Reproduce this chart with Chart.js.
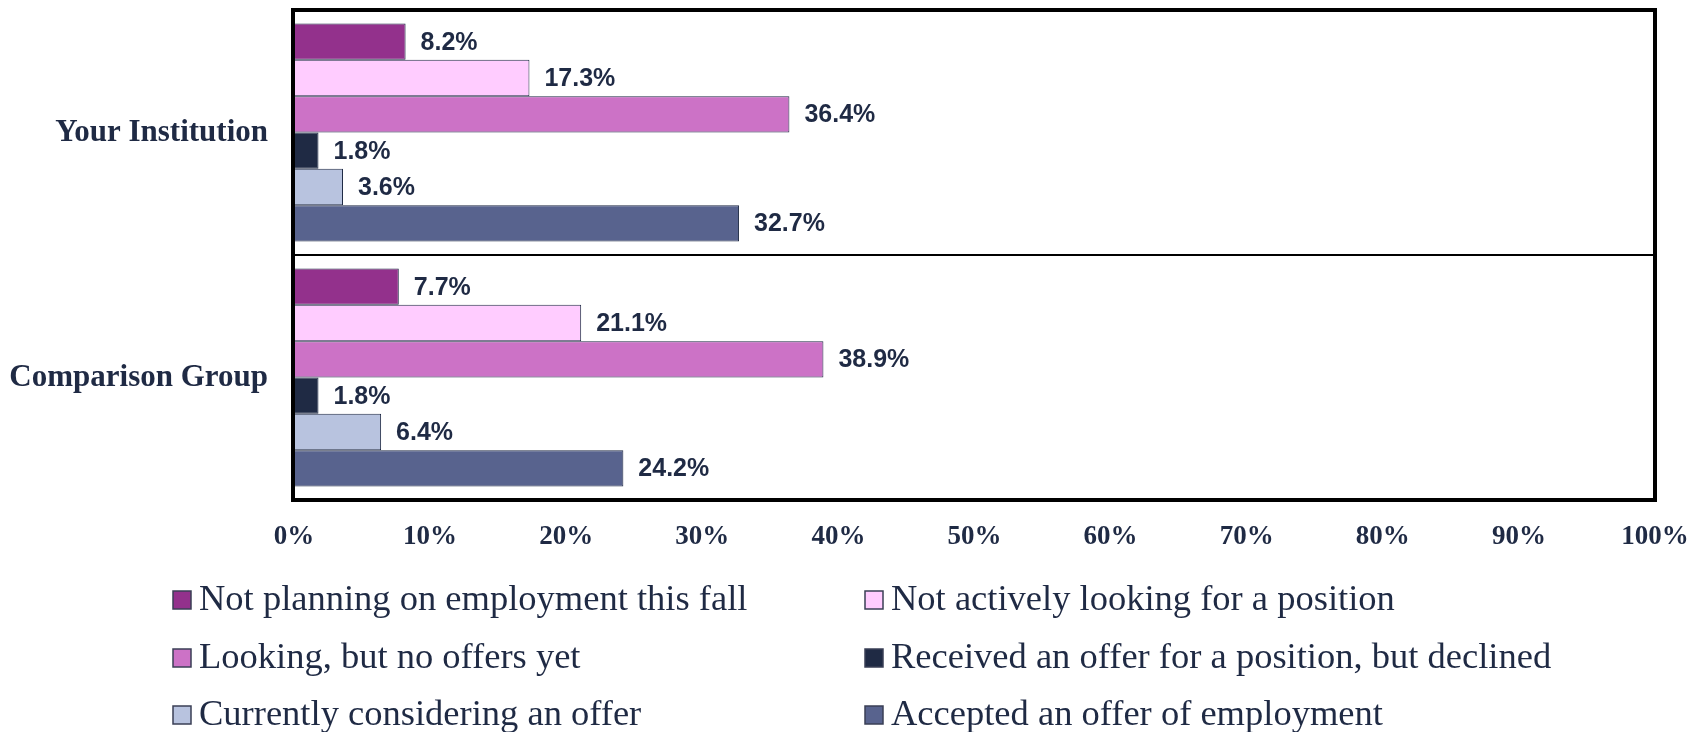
<!DOCTYPE html>
<html>
<head>
<meta charset="utf-8">
<script src="https://cdn.jsdelivr.net/npm/chart.js@4.4.1/dist/chart.umd.min.js"></script>
<style>
  html, body { margin: 0; padding: 0; background: #fff; }
  canvas { display: block; }
</style>
</head>
<body>
<canvas id="status" width="1696" height="732"></canvas>
<script>
var groups = ['Your Institution', 'Comparison Group'];
var seriesNames = [
    'Not planning on employment this fall',
    'Not actively looking for a position',
    'Looking, but no offers yet',
    'Received an offer for a position, but declined',
    'Currently considering an offer',
    'Accepted an offer of employment'
];
var notPlanning = [8.2, 7.7];
var notLooking = [17.3, 21.1];
var lookingNoOffers = [36.4, 38.9];
var declined = [1.8, 1.8];
var considering = [3.6, 6.4];
var accepted = [32.7, 24.2];
var xTicks = [0, 10, 20, 30, 40, 50, 60, 70, 80, 90, 100];

var seriesValues = [notPlanning, notLooking, lookingNoOffers, declined, considering, accepted];
var colors = ['#93318c', '#ffccff', '#cc72c6', '#1f2a44', '#b8c3df', '#58638e'];
var navy = '#1f2a44';

// value labels right of each bar
var barLabels = {
    id: 'barLabels',
    afterDatasetsDraw: function(chart) {
        var ctx = chart.ctx;
        ctx.save();
        ctx.font = 'bold 25px "Liberation Sans", Arial, sans-serif';
        ctx.fillStyle = navy;
        ctx.textAlign = 'left';
        ctx.textBaseline = 'middle';
        chart.data.datasets.forEach(function(ds, i) {
            chart.getDatasetMeta(i).data.forEach(function(bar, j) {
                ctx.fillText(ds.data[j].toFixed(1) + '%', bar.x + 15, bar.y + 1);
            });
        });
        ctx.restore();
    }
};

// thick frame around the plot
var frame = {
    id: 'frame',
    afterDraw: function(chart) {
        var a = chart.chartArea;
        var ctx = chart.ctx;
        ctx.save();
        ctx.strokeStyle = '#000';
        ctx.lineWidth = 4;
        ctx.strokeRect(a.left - 1, a.top, a.right - a.left + 1, a.bottom - a.top);
        ctx.restore();
    }
};

// two-column legend under the axis
var gridLegend = {
    id: 'gridLegend',
    afterDraw: function(chart) {
        var ctx = chart.ctx;
        var colX = [173, 865];
        var rowY = [600, 658, 715];
        ctx.save();
        ctx.font = '36.5px "Liberation Serif", "Times New Roman", serif';
        ctx.textBaseline = 'middle';
        ctx.textAlign = 'left';
        chart.data.datasets.forEach(function(ds, i) {
            var x = colX[i % 2];
            var y = rowY[Math.floor(i / 2)];
            ctx.fillStyle = ds.backgroundColor;
            ctx.fillRect(x, y - 9, 18, 18);
            ctx.strokeStyle = '#3a3f55';
            ctx.lineWidth = 1.5;
            ctx.strokeRect(x, y - 9, 18, 18);
            ctx.fillStyle = navy;
            ctx.fillText(ds.label, x + 26, y);
        });
        ctx.restore();
    }
};

var ctx = document.getElementById('status');
var statusChart = new Chart(ctx, {
    type: 'bar',
    data: {
        labels: groups,
        datasets: seriesNames.map(function(name, i) {
            return {
                label: name,
                data: seriesValues[i],
                backgroundColor: colors[i],
                borderColor: navy,
                borderWidth: 1,
                categoryPercentage: 0.89,
                barPercentage: 1.0
            };
        })
    },
    options: {
        indexAxis: 'y',
        responsive: false,
        animation: false,
        layout: {
            padding: { top: 10, right: 41, left: 0, bottom: 172 }
        },
        plugins: {
            legend: { display: false },
            tooltip: { enabled: false }
        },
        scales: {
            x: {
                min: 0,
                max: 100,
                afterBuildTicks: function(scale) {
                    scale.ticks = xTicks.map(function(v) { return { value: v }; });
                },
                afterFit: function(scale) {
                    scale.height = 60;
                    scale.paddingLeft = 0;
                    scale.paddingRight = 0;
                },
                grid: { display: false, drawTicks: false },
                border: { display: false },
                ticks: {
                    padding: 21,
                    color: navy,
                    font: { family: '"Liberation Serif", "Times New Roman", serif', size: 27, weight: 'bold' },
                    callback: function(v) { return v + '%'; }
                }
            },
            y: {
                afterFit: function(scale) {
                    scale.width = 294;
                    scale.paddingTop = 0;
                    scale.paddingBottom = 0;
                },
                grid: { color: '#000', lineWidth: 2, drawTicks: false },
                border: { display: false },
                ticks: {
                    padding: 26,
                    color: navy,
                    font: { family: '"Liberation Serif", "Times New Roman", serif', size: 31, weight: 'bold' }
                }
            }
        }
    },
    plugins: [barLabels, frame, gridLegend]
});
</script>
</body>
</html>
